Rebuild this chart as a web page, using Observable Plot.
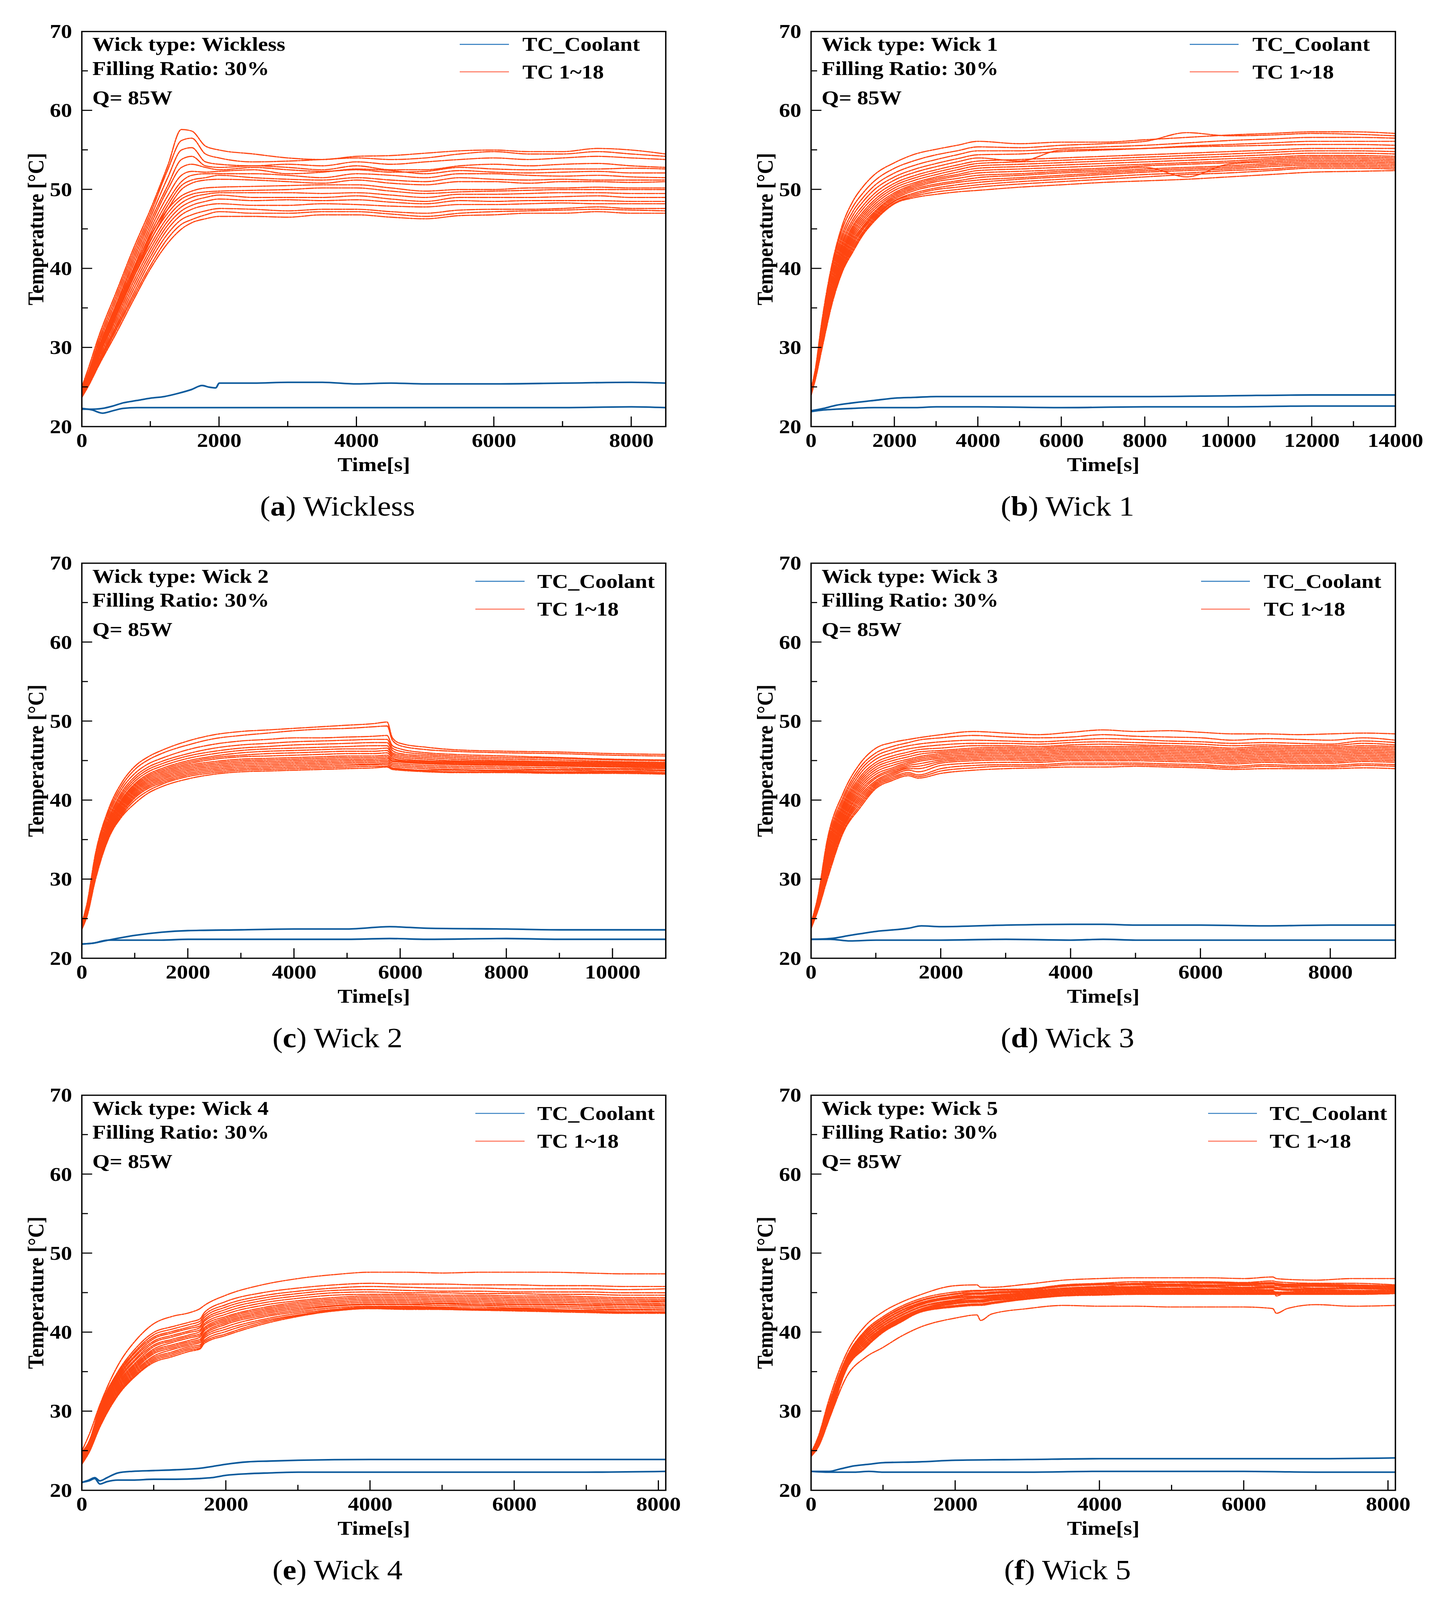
<!DOCTYPE html>
<html>
<head>
<meta charset="utf-8">
<script src="https://cdn.jsdelivr.net/npm/d3@7"></script>
<script src="https://cdn.jsdelivr.net/npm/@observablehq/plot@0.6"></script>
<style>
html, body { margin: 0; padding: 0; background: #fff; overflow: hidden; }
#root { position: relative; width: 3679px; height: 4544px; background: #fff; overflow: hidden; transform-origin: 0 0; }
.panel { position: absolute; }
.caption { position: absolute; font-family: "Liberation Serif", "Times New Roman", serif; font-size: 79px; line-height: 1; transform: translate(-50%, -50%); white-space: nowrap; color: #000; }
</style>
</head>
<body>
<div id="root"></div>
<script>
// ---------- Panel (a) Wickless ----------
const timeA = [0,100,250,500,750,1000,1250,1450,1600,1800,2000,2500,3000,3500,4000,4500,5000,5500,6000,6500,7000,7500,8000,8500];
const tcA = [
 [25,27.5,31.5,37,42.5,47.5,53,57.6,57.4,55.5,55,54.5,54,53.8,54.2,54.3,54.6,54.9,55,54.8,54.8,55.2,55,54.5],
 [24.8,27,31,36.5,42,47,52.5,56.2,56.5,54.5,54,53.5,53.6,53.8,54,53.8,54,54.5,54.8,54.5,54.5,54.8,54.5,54.2],
 [24.7,26.8,30.6,36,41.5,46.5,51.5,55,55.3,53.5,53.2,53,53.2,53,53.5,53.2,53.5,53.8,54,53.8,54,54.2,54,53.8],
 [24.6,26.5,30.2,35.5,41,46,50.5,53.8,54.2,53,52.8,53,52.8,52.5,53,52.5,52.5,53,53.2,53,53.2,53.3,53,52.8],
 [24.5,26.4,30,35.2,40.5,45.5,50,52.8,53.2,52.8,52.5,52.8,52.5,52.3,52.5,52.2,52.3,52.8,52.6,52.5,52.6,52.6,52.7,52.6],
 [24.4,26.2,29.8,35,40,45,49.2,51.8,52.3,52.2,52.3,52.5,52,52.2,52.6,52.4,52,52.4,52.2,52.1,52.2,52.3,52.1,52.1],
 [24.3,26,29.5,34.6,39.5,44.5,48.5,51,51.8,52,52,52,51.8,51.5,52,51.8,51.5,52,52,51.8,51.7,51.8,51.6,51.5],
 [24.2,25.9,29.3,34.3,39.2,44,48,50.5,51.2,51.5,51.8,51.5,51.3,51.2,51.5,51.2,51,51.5,51.3,51.2,51.3,51.2,51.2,51.2],
 [24.1,25.8,29,34,38.8,43.5,47.5,50,50.8,51.2,51.3,51.2,51,50.8,51.2,50.8,50.6,51,51,50.8,51,51,50.9,51],
 [24.5,26.3,29.8,34.8,39.8,44.2,47.5,49.2,49.8,50.2,50.3,50.4,50.5,50.6,50.6,50.2,49.8,50,50,50.2,50.2,50.3,50.2,50.2],
 [24.4,26.1,29.5,34.3,39.2,43.6,47,48.8,49.4,49.7,49.8,49.9,50,50.2,50.2,49.8,49.5,49.7,49.8,49.9,50,50,50,50],
 [24.3,26,29.2,34,38.8,43,46.5,48.3,49,49.4,49.6,49.6,49.6,49.5,49.6,49.3,49,49.4,49.4,49.5,49.6,49.6,49.5,49.5],
 [24.2,25.8,29,33.6,38.3,42.5,46,47.8,48.5,49,49.3,49,49,49,49.2,48.8,48.5,49,49,49,49.1,49.2,49,49],
 [24.1,25.7,28.7,33.2,37.8,42,45.5,47.3,48,48.5,48.8,48.6,48.7,48.6,48.7,48.4,48.2,48.6,48.5,48.6,48.6,48.6,48.5,48.5],
 [24,25.5,28.4,32.8,37.3,41.5,45,46.8,47.5,48,48.2,48,48,48.2,48.1,47.9,47.8,48.1,48.1,48.2,48.3,48.2,48.2,48.2],
 [23.9,25.4,28.2,32.5,36.8,41,44.4,46.2,46.8,47.3,47.6,47.5,47.3,47.5,47.5,47.2,47,47.4,47.5,47.5,47.6,47.8,47.6,47.6],
 [23.8,25.3,28,32.2,36.4,40.4,43.8,45.6,46.2,46.8,47.2,47,47,47.2,47.2,46.9,46.6,47,47.2,47.3,47.4,47.5,47.4,47.3],
 [23.7,25.2,27.8,31.8,36,40,43.2,45,45.8,46.3,46.6,46.6,46.5,46.8,46.8,46.5,46.3,46.7,46.8,47,47,47.2,47,47]
];
const coolTimeA = [0,150,300,450,600,800,1000,1200,1400,1600,1750,1850,1950,2000,2500,3000,3500,4000,4500,5000,6000,7000,8000,8500];
const coolA = [
 [22.2,22.2,22.3,22.6,23.0,23.3,23.6,23.8,24.2,24.7,25.2,25.0,24.9,25.5,25.5,25.6,25.6,25.4,25.5,25.4,25.4,25.5,25.6,25.5],
 [22.3,22.1,21.7,22.0,22.3,22.4,22.4,22.4,22.4,22.4,22.4,22.4,22.4,22.4,22.4,22.4,22.4,22.4,22.4,22.4,22.4,22.4,22.5,22.4]
];

// ---------- Panel (b) Wick 1 ----------
const timeB = [0,100,250,500,750,1000,1250,1500,2000,2500,3000,3500,4000,5000,6000,7000,8000,9000,10000,11000,12000,13000,14000];
const tcB = [
 [24.8,27.2,33.0,40.5,45.5,48.5,50.4,51.8,53.4,54.5,55.1,55.6,56.1,55.8,56.0,56.0,56.3,56.6,56.9,57.1,57.3,57.3,57.1],
 [24.7,27.0,32.6,40.0,45.0,47.8,49.6,51.0,52.7,53.7,54.4,54.9,55.4,55.3,55.6,55.8,56.1,57.2,56.8,56.9,57.1,57.0,56.8],
 [24.6,26.9,32.3,39.5,44.4,47.2,49.0,50.4,52.1,53.1,53.8,54.4,54.9,54.9,55.2,55.4,55.6,55.9,56.2,56.4,56.6,56.6,56.5],
 [24.6,26.8,32.0,39.0,43.9,46.7,48.5,49.9,51.6,52.6,53.3,53.9,54.4,54.5,54.8,55.0,55.2,55.5,55.7,55.9,56.1,56.1,56.1],
 [24.5,26.7,31.7,38.5,43.4,46.2,48.0,49.4,51.2,52.2,52.9,53.5,54.0,53.6,55.0,55.1,55.2,55.4,55.5,55.6,55.7,55.7,55.6],
 [24.5,26.6,31.4,38.1,43.0,45.8,47.6,49.0,50.8,51.8,52.5,53.1,53.6,53.8,54.0,54.2,54.4,54.6,54.8,55.0,55.2,55.2,55.2],
 [24.4,26.5,31.2,37.8,42.6,45.4,47.2,48.6,50.5,51.5,52.2,52.8,53.3,53.5,53.7,53.9,54.1,54.3,54.5,54.7,54.9,54.9,54.8],
 [24.4,26.4,31.0,37.4,42.2,45.1,46.9,48.3,50.2,51.2,51.9,52.5,53.0,53.2,53.4,53.6,53.8,54.0,54.2,54.4,54.6,54.6,54.5],
 [24.3,26.4,30.8,37.1,41.9,44.8,46.6,48.0,49.9,50.9,51.6,52.2,52.7,52.9,53.1,53.3,53.5,53.7,53.9,54.1,54.3,54.3,54.2],
 [24.3,26.3,30.6,36.8,41.6,44.5,46.3,47.7,49.6,50.7,51.4,51.9,52.4,52.6,52.8,53.0,53.2,53.4,53.6,53.9,54.1,54.1,54.0],
 [24.2,26.3,30.4,36.5,41.3,44.2,46.0,47.4,49.4,50.5,51.2,51.7,52.1,52.3,52.5,52.7,53.0,53.2,53.4,53.7,53.9,53.9,53.8],
 [24.2,26.2,30.2,36.3,41.0,43.9,45.7,47.1,49.2,50.3,51.0,51.4,51.8,52.0,52.3,52.5,52.8,51.6,53.2,53.5,53.7,53.7,53.6],
 [24.1,26.2,30.1,36.1,40.7,43.6,45.4,46.9,49.0,50.1,50.7,51.1,51.5,51.8,52.1,52.3,52.6,52.8,53.0,53.3,53.5,53.5,53.4],
 [24.1,26.1,30.0,35.9,40.4,43.3,45.2,46.7,48.8,49.9,50.5,50.9,51.2,51.5,51.8,52.1,52.4,52.6,52.8,53.1,53.3,53.3,53.2],
 [24.1,26.1,29.9,35.8,40.2,43.0,45.0,46.5,48.6,49.6,50.2,50.6,50.9,51.3,51.6,51.9,52.2,52.4,52.6,52.9,53.1,53.1,53.0],
 [24.0,26.0,29.8,35.7,40.0,42.7,44.7,46.3,48.5,49.4,50.0,50.3,50.6,51.0,51.3,51.6,51.9,52.1,52.4,52.6,52.9,52.9,52.8],
 [24.0,26.0,29.7,35.6,39.8,42.4,44.5,46.1,48.3,49.2,49.7,50.0,50.3,50.7,51.0,51.3,51.6,51.9,52.1,52.4,52.7,52.7,52.6],
 [24.0,25.9,29.6,35.5,39.6,42.1,44.3,45.9,48.2,49.0,49.4,49.7,49.9,50.3,50.6,50.9,51.1,51.3,51.6,51.9,52.2,52.3,52.4]
];
const coolTimeB = [0,300,600,1000,1500,2000,2500,3000,4000,6000,8000,10000,12000,14000];
const coolB = [
 [22.0,22.3,22.7,23.0,23.3,23.6,23.7,23.8,23.8,23.8,23.8,23.9,24.0,24.0],
 [21.9,22.1,22.2,22.3,22.4,22.4,22.4,22.5,22.5,22.4,22.5,22.5,22.6,22.6]
];

// ---------- Panel (c) Wick 2 ----------
const timeC = [0,100,250,500,750,1000,1250,1500,2000,2500,3000,3500,4000,4500,5000,5500,5750,5850,6000,6500,7000,8000,9000,10000,11000];
const tcC = [
 [24.5,27.0,33.0,38.8,42.2,44.3,45.5,46.3,47.5,48.3,48.7,48.9,49.1,49.3,49.5,49.7,49.9,47.9,47.2,46.7,46.4,46.2,46.1,45.9,45.8],
 [24.4,26.8,32.6,38.4,41.8,43.9,45.1,45.9,47.0,47.8,48.2,48.5,48.8,49.0,49.1,49.3,49.4,47.6,46.9,46.4,46.2,46.0,45.9,45.7,45.6],
 [24.3,26.6,32.2,38.0,41.4,43.4,44.6,45.3,46.4,47.1,47.5,47.7,47.9,47.9,48.0,48.1,48.2,46.9,46.5,46.0,45.8,45.6,45.4,45.2,45.1],
 [24.3,26.5,31.9,37.6,41.0,43.0,44.2,44.9,45.9,46.6,47.0,47.2,47.4,47.5,47.6,47.7,47.7,46.6,46.2,45.8,45.6,45.4,45.3,45.1,45.0],
 [24.2,26.4,31.7,37.3,40.7,42.7,43.9,44.6,45.6,46.2,46.6,46.8,47.0,47.1,47.2,47.3,47.3,46.3,45.9,45.6,45.4,45.2,45.1,44.9,44.8],
 [24.2,26.3,31.5,37.0,40.4,42.4,43.6,44.3,45.3,45.9,46.3,46.5,46.6,46.7,46.8,46.9,46.9,46.0,45.7,45.4,45.2,45.0,44.9,44.8,44.7],
 [24.1,26.2,31.3,36.8,40.1,42.1,43.3,44.0,45.0,45.6,46.0,46.2,46.3,46.4,46.5,46.5,46.6,45.8,45.5,45.2,45.0,44.9,44.8,44.7,44.6],
 [24.1,26.1,31.1,36.6,39.9,41.9,43.1,43.8,44.8,45.4,45.7,45.9,46.0,46.1,46.2,46.2,46.3,45.6,45.3,45.0,44.9,44.8,44.7,44.6,44.5],
 [24.0,26.0,30.9,36.4,39.7,41.7,42.9,43.6,44.6,45.2,45.5,45.6,45.7,45.8,45.9,45.9,46.0,45.4,45.1,44.9,44.8,44.7,44.6,44.5,44.4],
 [24.0,25.9,30.7,36.2,39.5,41.5,42.7,43.4,44.4,44.9,45.2,45.3,45.4,45.5,45.6,45.6,45.7,45.2,45.0,44.8,44.7,44.6,44.5,44.4,44.3],
 [23.9,25.8,30.5,36.0,39.3,41.3,42.5,43.2,44.2,44.7,45.0,45.1,45.2,45.3,45.4,45.4,45.5,45.0,44.9,44.7,44.6,44.5,44.4,44.3,44.2],
 [23.9,25.7,30.4,35.8,39.1,41.1,42.3,43.0,44.0,44.5,44.8,44.9,45.0,45.1,45.2,45.2,45.3,44.9,44.8,44.6,44.5,44.4,44.3,44.2,44.1],
 [23.9,25.6,30.3,35.7,38.9,40.9,42.1,42.8,43.8,44.3,44.6,44.7,44.8,44.9,45.0,45.0,45.1,44.7,44.6,44.4,44.3,44.2,44.1,44.0,44.0],
 [23.8,25.6,30.2,35.6,38.7,40.7,41.9,42.6,43.6,44.1,44.4,44.5,44.6,44.7,44.8,44.8,44.9,44.5,44.4,44.2,44.1,44.0,43.9,43.9,43.8],
 [23.8,25.5,30.1,35.5,38.5,40.5,41.7,42.4,43.4,43.9,44.2,44.3,44.4,44.5,44.6,44.6,44.7,44.3,44.2,44.0,43.9,43.8,43.8,43.7,43.7],
 [23.8,25.5,30.0,35.4,38.3,40.3,41.5,42.2,43.2,43.7,44.0,44.1,44.2,44.3,44.4,44.5,44.5,44.1,44.0,43.8,43.8,43.7,43.6,43.6,43.5],
 [23.7,25.4,29.9,35.3,38.1,40.0,41.2,42.0,43.0,43.5,43.8,43.9,44.0,44.1,44.2,44.3,44.3,44.0,43.9,43.7,43.6,43.6,43.5,43.5,43.4],
 [23.7,25.4,29.8,35.1,37.9,39.6,40.9,41.7,42.7,43.3,43.6,43.7,43.8,43.9,44.0,44.1,44.2,43.9,43.8,43.6,43.5,43.5,43.4,43.4,43.3]
];
const coolTimeC = [0,200,500,1000,1500,2000,3000,4000,5000,5800,6500,8000,9000,10000,11000];
const coolC = [
 [21.8,21.9,22.3,22.9,23.3,23.5,23.6,23.7,23.7,24.0,23.8,23.7,23.6,23.6,23.6],
 [21.8,21.9,22.3,22.3,22.3,22.4,22.4,22.4,22.4,22.5,22.4,22.5,22.4,22.4,22.4]
];

// ---------- Panel (d) Wick 3 ----------
const timeD = [0,100,250,500,750,1000,1250,1500,1650,2000,2500,3000,3500,4000,4500,5000,5500,6000,6500,7000,7500,8000,8500,9000];
const tcD = [
 [24.5,27.6,35.0,41.0,44.6,46.6,47.3,47.7,47.9,48.3,48.7,48.5,48.3,48.6,48.9,48.7,48.8,48.6,48.4,48.4,48.3,48.4,48.5,48.4],
 [24.4,27.4,34.5,40.5,44.1,46.0,46.8,47.3,47.6,47.9,48.2,48.0,47.9,48.0,48.3,48.1,48.0,47.9,47.6,47.8,47.7,47.6,47.9,47.6],
 [24.4,27.3,34.1,40.1,43.7,45.6,46.4,46.9,47.1,47.4,47.6,47.5,47.4,47.6,47.8,47.7,47.5,47.4,47.2,47.3,47.2,47.1,47.5,47.3],
 [24.3,27.2,33.8,39.7,43.3,45.2,46.0,46.5,46.7,47.0,47.2,47.2,47.1,47.3,47.4,47.3,47.2,47.1,46.9,47.0,46.9,46.9,47.2,47.0],
 [24.3,27.1,33.5,39.4,42.9,44.8,45.6,46.1,46.4,46.6,46.9,46.9,46.8,47.0,47.1,47.0,46.9,46.8,46.6,46.8,46.7,46.7,46.9,46.8],
 [24.2,27.0,33.2,39.1,42.6,44.5,45.3,45.8,46.1,46.3,46.6,46.7,46.6,46.8,46.8,46.8,46.7,46.6,46.4,46.6,46.5,46.5,46.7,46.6],
 [24.2,26.9,32.9,38.8,42.3,44.2,45.0,45.5,45.8,46.1,46.4,46.5,46.4,46.6,46.6,46.6,46.5,46.4,46.2,46.4,46.3,46.3,46.5,46.4],
 [24.1,26.8,32.6,38.5,42.0,43.9,44.7,45.2,45.5,45.9,46.2,46.3,46.2,46.4,46.4,46.4,46.3,46.2,46.0,46.2,46.1,46.1,46.3,46.2],
 [24.1,26.7,32.3,38.2,41.7,43.6,44.4,45.0,45.3,45.7,46.0,46.1,46.0,46.2,46.2,46.2,46.1,46.0,45.8,46.0,45.9,45.9,46.1,46.0],
 [24.0,26.6,32.0,37.9,41.4,43.3,44.1,44.8,45.1,45.5,45.8,45.9,45.8,46.0,46.0,46.0,45.9,45.8,45.6,45.8,45.7,45.7,45.9,45.8],
 [24.0,26.5,31.8,37.6,41.1,43.0,43.9,44.6,44.9,45.3,45.6,45.7,45.6,45.8,45.8,45.8,45.7,45.6,45.4,45.6,45.5,45.5,45.7,45.6],
 [24.0,26.4,31.6,37.4,40.8,42.8,43.7,44.4,44.6,45.1,45.4,45.5,45.4,45.6,45.6,45.6,45.5,45.4,45.2,45.4,45.3,45.3,45.5,45.4],
 [23.9,26.3,31.4,37.1,40.5,42.5,43.5,44.2,44.3,44.9,45.2,45.3,45.2,45.4,45.4,45.4,45.3,45.2,45.0,45.2,45.1,45.1,45.3,45.2],
 [23.9,26.2,31.2,36.9,40.2,42.3,43.3,44.0,44.0,44.7,45.0,45.1,45.0,45.2,45.2,45.2,45.1,45.0,44.8,45.0,44.9,44.9,45.1,45.0],
 [23.9,26.2,31.0,36.7,39.9,42.1,43.1,43.8,43.6,44.4,44.7,44.8,44.8,45.0,45.0,45.0,44.9,44.8,44.6,44.8,44.7,44.7,44.9,44.8],
 [23.8,26.1,30.7,36.5,39.6,41.9,42.9,43.5,43.2,44.0,44.4,44.5,44.5,44.7,44.7,44.7,44.6,44.5,44.3,44.5,44.4,44.4,44.6,44.5],
 [23.8,26.0,30.4,36.2,39.3,41.7,42.7,43.3,43.0,43.7,44.1,44.3,44.3,44.5,44.5,44.5,44.4,44.3,44.1,44.3,44.2,44.2,44.4,44.3],
 [23.8,25.9,30.0,36.0,39.0,41.5,42.5,43.1,42.8,43.4,43.8,44.0,44.1,44.2,44.2,44.3,44.2,44.1,43.9,44.0,44.0,44.0,44.1,44.0]
];
const coolTimeD = [0,300,600,1000,1500,1700,2000,3000,4000,4500,5000,6000,7000,8000,9000];
const coolD = [
 [22.4,22.5,22.9,23.4,23.8,24.1,24.0,24.2,24.3,24.3,24.2,24.2,24.1,24.2,24.2],
 [22.4,22.4,22.2,22.3,22.3,22.3,22.3,22.4,22.3,22.4,22.3,22.3,22.3,22.3,22.3]
];

// ---------- Panel (e) Wick 4 ----------
const timeE = [0,100,250,500,750,1000,1250,1500,1640,1700,2000,2500,3000,3500,4000,4500,5000,5500,6000,6500,7000,7500,8100];
const tcE = [
 [25.0,27.0,30.8,35.8,39.0,41.1,42.0,42.5,43.0,43.4,44.7,46.0,46.8,47.3,47.6,47.6,47.5,47.6,47.6,47.6,47.5,47.4,47.4],
 [24.8,26.2,30.5,35.0,38.0,40.0,40.7,41.3,41.7,42.5,43.9,45.0,45.6,46.0,46.2,46.1,46.1,46.0,46.0,45.9,45.9,45.8,45.8],
 [24.7,26.1,30.3,34.8,37.7,39.7,40.4,41.0,41.4,42.2,43.5,44.6,45.2,45.6,45.8,45.7,45.6,45.6,45.5,45.5,45.5,45.4,45.5],
 [24.6,26.0,30.1,34.6,37.5,39.4,40.1,40.7,41.1,41.9,43.2,44.3,44.9,45.3,45.4,45.3,45.2,45.2,45.1,45.1,45.1,45.0,45.0],
 [24.5,25.9,29.9,34.4,37.2,39.2,39.9,40.5,40.8,41.6,42.9,44.0,44.6,45.0,45.1,45.0,45.0,44.9,44.9,44.8,44.8,44.7,44.7],
 [24.4,25.8,29.8,34.2,37.0,38.9,39.6,40.2,40.6,41.4,42.6,43.7,44.3,44.7,44.8,44.8,44.7,44.7,44.6,44.6,44.5,44.4,44.4],
 [24.3,25.7,29.6,34.0,36.7,38.7,39.4,40.0,40.3,41.1,42.3,43.4,44.0,44.4,44.6,44.6,44.5,44.5,44.4,44.4,44.3,44.2,44.2],
 [24.2,25.6,29.5,33.8,36.5,38.4,39.1,39.7,40.1,40.9,42.0,43.1,43.8,44.2,44.4,44.4,44.3,44.3,44.2,44.2,44.1,44.0,44.0],
 [24.1,25.5,29.3,33.6,36.2,38.2,38.9,39.5,39.8,40.6,41.8,42.9,43.6,44.0,44.2,44.2,44.1,44.1,44.0,44.0,43.9,43.8,43.9],
 [24.0,25.4,29.2,33.4,36.0,37.9,38.7,39.3,39.6,40.4,41.6,42.7,43.4,43.8,44.0,44.0,43.9,43.9,43.8,43.8,43.7,43.6,43.7],
 [23.9,25.3,29.0,33.2,35.8,37.7,38.4,39.0,39.4,40.2,41.4,42.5,43.2,43.6,43.8,43.8,43.7,43.7,43.6,43.6,43.5,43.5,43.5],
 [23.8,25.2,28.9,33.0,35.6,37.5,38.2,38.8,39.1,39.9,41.2,42.3,43.0,43.4,43.6,43.6,43.6,43.5,43.5,43.5,43.4,43.3,43.4],
 [23.7,25.1,28.7,32.8,35.4,37.3,38.0,38.6,38.9,39.7,41.0,42.1,42.8,43.3,43.5,43.5,43.4,43.4,43.3,43.3,43.2,43.1,43.2],
 [23.6,25.0,28.6,32.6,35.2,37.0,37.8,38.4,38.7,39.5,40.7,41.9,42.6,43.1,43.3,43.3,43.2,43.2,43.1,43.1,43.0,42.9,43.0],
 [23.5,24.9,28.4,32.4,35.0,36.8,37.5,38.2,38.4,39.3,40.4,41.6,42.4,42.9,43.2,43.2,43.1,43.0,43.0,42.9,42.8,42.8,42.8],
 [23.4,24.9,28.2,32.2,34.8,36.6,37.3,38.0,38.2,39.0,40.1,41.4,42.2,42.8,43.1,43.1,43.0,42.9,42.9,42.8,42.7,42.6,42.6],
 [23.4,24.8,28.1,32.1,34.6,36.4,37.1,37.8,38.0,38.8,39.8,41.2,42.1,42.7,43.0,43.0,42.9,42.8,42.8,42.7,42.6,42.5,42.5],
 [23.3,24.8,28.0,32.0,34.5,36.2,36.9,37.6,37.9,38.6,39.6,41.0,42.0,42.7,43.0,42.9,42.9,42.8,42.7,42.6,42.5,42.4,42.4]
];
const coolTimeE = [0,100,180,250,350,500,700,1000,1300,1650,1800,2000,2300,2600,3000,4000,5000,6000,7000,8100];
const coolE = [
 [21.0,21.3,21.6,21.2,21.6,22.2,22.4,22.5,22.6,22.8,23.0,23.3,23.6,23.7,23.8,23.9,23.9,23.9,23.9,23.9],
 [21.0,21.2,21.5,20.8,21.1,21.3,21.3,21.4,21.4,21.5,21.6,21.9,22.1,22.2,22.3,22.3,22.3,22.3,22.3,22.4]
];

// ---------- Panel (f) Wick 5 ----------
const timeF = [0,100,250,500,750,1000,1250,1500,2000,2300,2350,2500,3000,3500,4000,4500,5000,5500,6000,6400,6450,6600,7000,7500,8100];
const tcF = [
 [24.8,26.8,31.5,37.5,40.8,42.6,43.8,44.7,45.9,46.0,45.7,45.7,46.1,46.6,46.8,46.9,46.9,46.9,46.8,47.0,46.8,46.7,46.6,46.8,46.8],
 [24.8,26.6,31.0,37.0,40.2,42.0,43.3,44.2,45.1,45.3,45.3,45.4,45.5,46.0,46.2,46.4,46.4,46.4,46.3,46.5,46.4,46.3,46.2,46.2,46.0],
 [24.7,26.5,30.9,36.9,40.0,41.8,43.1,44.0,44.9,45.2,45.2,45.3,45.4,45.9,46.1,46.2,46.3,46.3,46.2,46.3,46.2,46.1,46.1,46.0,45.9],
 [24.7,26.4,30.8,36.8,39.9,41.7,43.0,43.9,44.8,45.0,45.0,45.1,45.3,45.8,46.0,46.1,46.1,46.2,46.1,46.2,46.1,46.0,46.0,45.9,45.8],
 [24.6,26.3,30.6,36.7,39.7,41.5,42.8,43.7,44.6,44.9,44.9,45.0,45.2,45.6,45.8,46.0,46.0,46.0,46.0,46.1,46.0,45.9,45.9,45.8,45.7],
 [24.6,26.3,30.5,36.6,39.6,41.4,42.7,43.6,44.5,44.8,44.8,44.9,45.1,45.5,45.7,45.8,45.9,45.9,45.9,45.9,45.9,45.8,45.8,45.7,45.6],
 [24.5,26.2,30.4,36.5,39.4,41.2,42.5,43.5,44.4,44.6,44.6,44.7,45.0,45.4,45.6,45.7,45.8,45.8,45.7,45.8,45.7,45.7,45.6,45.6,45.5],
 [24.5,26.1,30.3,36.4,39.3,41.1,42.4,43.4,44.3,44.5,44.5,44.6,44.9,45.3,45.5,45.6,45.6,45.7,45.6,45.7,45.6,45.5,45.5,45.5,45.4],
 [24.5,26.1,30.2,36.3,39.1,40.9,42.2,43.2,44.1,44.4,44.4,44.5,44.8,45.2,45.4,45.5,45.5,45.5,45.5,45.6,45.5,45.4,45.4,45.3,45.3],
 [24.4,26.0,30.1,36.2,39.0,40.8,42.1,43.1,44.0,44.3,44.3,44.4,44.7,45.1,45.3,45.4,45.4,45.4,45.4,45.4,45.4,45.3,45.3,45.2,45.2],
 [24.4,25.9,30.0,36.1,38.8,40.6,41.9,42.9,43.9,44.1,44.1,44.3,44.6,45.0,45.2,45.3,45.3,45.3,45.3,45.3,44.6,45.1,45.2,45.1,45.1],
 [24.4,25.9,29.8,36.0,38.7,40.5,41.8,42.8,43.8,44.0,44.0,44.2,44.5,44.9,45.1,45.2,45.2,45.2,45.2,45.2,45.1,45.1,45.1,45.0,45.0],
 [24.3,25.8,29.7,35.9,38.5,40.4,41.7,42.7,43.7,43.9,43.9,44.1,44.4,44.8,45.0,45.1,45.1,45.1,45.1,45.1,45.0,45.0,45.0,45.0,45.0],
 [24.3,25.7,29.6,35.8,38.4,40.3,41.6,42.6,43.6,43.8,43.8,44.0,44.3,44.7,44.9,45.0,45.0,45.0,45.0,45.0,44.9,44.9,44.9,44.9,44.9],
 [24.3,25.7,29.4,35.7,38.2,40.2,41.5,42.6,43.4,43.6,43.6,43.8,44.3,44.7,44.8,44.9,44.9,44.9,44.9,44.9,44.9,44.8,44.8,44.9,44.9],
 [24.3,25.6,29.2,35.6,38.1,40.1,41.4,42.5,43.3,43.5,43.5,43.7,44.2,44.6,44.8,44.8,44.8,44.8,44.8,44.8,44.8,44.8,44.8,44.8,44.9],
 [24.3,25.5,29.0,35.5,38.0,40.0,41.3,42.5,43.2,43.4,43.4,43.6,44.2,44.6,44.7,44.8,44.8,44.8,44.8,44.8,44.8,44.8,44.8,44.8,44.9],
 [24.3,25.5,29.0,34.5,36.8,38.1,39.5,40.6,41.8,42.2,41.5,42.3,43.0,43.4,43.3,43.3,43.2,43.2,43.2,43.0,42.4,43.0,43.5,43.3,43.4]
];
const coolTimeF = [0,250,400,600,800,1000,1500,2000,3000,4000,5000,6000,7000,8100];
const coolF = [
 [22.4,22.4,22.7,23.1,23.3,23.5,23.6,23.8,23.9,24.0,24.0,24.0,24.0,24.1],
 [22.4,22.3,22.3,22.3,22.4,22.3,22.3,22.3,22.3,22.4,22.4,22.4,22.3,22.3]
];

// ---------- Tick labels / text ----------
const yMajor = [20,30,40,50,60,70];
const yMinor = [25,35,45,55,65];
const wickLabels = ["Wick type: Wickless","Wick type: Wick 1","Wick type: Wick 2","Wick type: Wick 3","Wick type: Wick 4","Wick type: Wick 5"];
const captionLetters = ["a","b","c","d","e","f"];
const captionNames = ["Wickless","Wick 1","Wick 2","Wick 3","Wick 4","Wick 5"];
const xMaxes = [8500,14000,11000,9000,8100,8100];
const xMajors = [
 [0,2000,4000,6000,8000],
 [0,2000,4000,6000,8000,10000,12000,14000],
 [0,2000,4000,6000,8000,10000],
 [0,2000,4000,6000,8000],
 [0,2000,4000,6000,8000],
 [0,2000,4000,6000,8000]
];
const xMinors = [
 [1000,3000,5000,7000],
 [1000,3000,5000,7000,9000,11000,13000],
 [1000,3000,5000,7000,9000],
 [1000,3000,5000,7000],
 [1000,3000,5000,7000],
 [1000,3000,5000,7000]
];

// ---------- Layout ----------
const ORANGE = "#ff4510";
const BLUE = "#0c5a9c";
const LEG_BLUE = "#3a82c2";
const LEG_ORANGE = "#ff7b64";
const FONT = '"Liberation Serif", "Times New Roman", serif';
const MT = 89, FH = 1122, MB = 160;
const rowTop = [0, 1510, 3021];
const colLeft = [0, 1850];
const colMarginLeft = [209, 226];
const colWidth = [1764, 1822];
const capX = [864, 2733];
const legends = [
 [968,1094,1128,37,115],
 [970,1095,1130,37,115],
 [1008,1134,1166,52,131],
 [999,1124,1159,52,131],
 [1008,1134,1166,52,131],
 [1017,1142,1174,52,131]
];
const series = [
 [timeA, tcA, coolTimeA, coolA],
 [timeB, tcB, coolTimeB, coolB],
 [timeC, tcC, coolTimeC, coolC],
 [timeD, tcD, coolTimeD, coolD],
 [timeE, tcE, coolTimeE, coolE],
 [timeF, tcF, coolTimeF, coolF]
];

const root = document.getElementById("root");
// the browser viewport can be shorter than the 4544 px figure: fit the whole figure vertically
const fitY = Math.min(1, (window.innerHeight || 4544) / 4544);
if (fitY < 1) root.style.transform = "scale(1," + fitY + ")";

series.forEach(([time, tc, coolTime, cool], p) => {
  const row = Math.floor(p / 2), col = p % 2;
  const ml = colMarginLeft[col], w = colWidth[col];
  const mr = w - ml - (col === 0 ? 1495 : 1496);
  const tcRows = [];
  tc.forEach((vals, i) => vals.forEach((v, j) => tcRows.push({t: time[j], T: v, s: "TC" + (i + 1)})));
  const coolRows = [];
  cool.forEach((vals, i) => vals.forEach((v, j) => coolRows.push({t: coolTime[j], T: v, s: "C" + i})));
  const leg = legends[p];
  const txt = (s, o) => Plot.text([s], {text: d => d, fontSize: 57, fontWeight: "bold", fill: "#000", lineAnchor: "middle", ...o});

  const plot = Plot.plot({
    width: w, height: MT + FH + MB,
    marginLeft: ml, marginRight: mr, marginTop: MT, marginBottom: MB,
    x: {domain: [0, xMaxes[p]]},
    y: {domain: [20, 70]},
    style: {fontFamily: FONT, fontSize: "57px", fontWeight: "bold", color: "#000", background: "#fff", maxWidth: "none"},
    marks: [
      Plot.line(coolRows, {x: "t", y: "T", z: "s", stroke: BLUE, strokeWidth: 4.5, curve: "monotone-x", clip: true}),
      Plot.line(tcRows, {x: "t", y: "T", z: "s", stroke: ORANGE, strokeWidth: 3.2, strokeDasharray: "20,3,5,3", curve: "monotone-x", clip: true}),
      Plot.axisX({ticks: xMajors[p], tickSize: 0, tickPadding: 17, label: null, tickFormat: d => String(d), fontSize: 57, fontWeight: "bold"}),
      Plot.axisY({ticks: yMajor, tickSize: 0, tickPadding: 25, label: null, tickFormat: d => String(d), fontSize: 57, fontWeight: "bold"}),
      txt("Time[s]", {frameAnchor: "bottom", dy: 108, textAnchor: "middle"}),
      txt("Temperature [°C]", {frameAnchor: "left", dx: -117, rotate: -90, textAnchor: "middle"}),
      txt(wickLabels[p], {frameAnchor: "top-left", dx: 27, dy: 37, textAnchor: "start"}),
      txt("Filling Ratio: 30%", {frameAnchor: "top-left", dx: 27, dy: 105, textAnchor: "start"}),
      txt("Q= 85W", {frameAnchor: "top-left", dx: 27, dy: 188, textAnchor: "start"}),
      txt("TC_Coolant", {frameAnchor: "top-left", dx: leg[2], dy: leg[3], textAnchor: "start"}),
      txt("TC 1~18", {frameAnchor: "top-left", dx: leg[2], dy: leg[4], textAnchor: "start"}),
      Plot.frame({stroke: "#000", strokeWidth: 3.5})
    ]
  });

  // inward tick marks and legend samples, positioned through the plot's scales
  const svg = d3.select(plot.tagName.toLowerCase() === "svg" ? plot : plot.querySelector("svg"));
  const xs = plot.scale("x"), ys = plot.scale("y");
  const fb = MT + FH;
  const g = svg.append("g").attr("stroke", "#000").attr("stroke-width", 3);
  xMajors[p].filter(v => v > 0 && v < xMaxes[p]).forEach(v => {
    const X = xs.apply(v);
    g.append("line").attr("x1", X).attr("x2", X).attr("y1", fb).attr("y2", fb - 28);
  });
  xMinors[p].forEach(v => {
    const X = xs.apply(v);
    g.append("line").attr("x1", X).attr("x2", X).attr("y1", fb).attr("y2", fb - 15);
  });
  yMajor.filter(v => v > 20 && v < 70).forEach(v => {
    const Y = ys.apply(v);
    g.append("line").attr("x1", ml).attr("x2", ml + 27).attr("y1", Y).attr("y2", Y);
  });
  yMinor.forEach(v => {
    const Y = ys.apply(v);
    g.append("line").attr("x1", ml).attr("x2", ml + 16).attr("y1", Y).attr("y2", Y);
  });
  svg.append("line").attr("x1", ml + leg[0]).attr("x2", ml + leg[1])
    .attr("y1", MT + leg[3]).attr("y2", MT + leg[3]).attr("stroke", LEG_BLUE).attr("stroke-width", 3);
  svg.append("line").attr("x1", ml + leg[0]).attr("x2", ml + leg[1])
    .attr("y1", MT + leg[4]).attr("y2", MT + leg[4]).attr("stroke", LEG_ORANGE).attr("stroke-width", 3);

  const div = document.createElement("div");
  div.className = "panel";
  div.style.left = colLeft[col] + "px";
  div.style.top = rowTop[row] + "px";
  div.style.width = w + "px";
  div.appendChild(plot);
  root.appendChild(div);

  const cap = document.createElement("div");
  cap.className = "caption";
  cap.style.left = capX[col] + "px";
  cap.style.top = (rowTop[row] + MT + 1349) + "px";
  cap.innerHTML = "(<b>" + captionLetters[p] + "</b>) " + captionNames[p];
  root.appendChild(cap);
});
</script>
</body>
</html>
